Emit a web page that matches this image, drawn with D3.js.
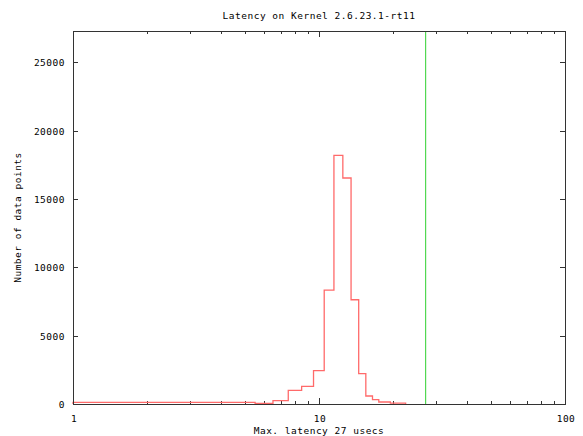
<!DOCTYPE html>
<html>
<head>
<meta charset="utf-8">
<script src="https://cdn.jsdelivr.net/npm/d3@7"></script>
<style>
  body { margin: 0; background: #fff; }
  text { font-family: "DejaVu Sans Mono", monospace; font-size: 9.5px; letter-spacing: 0.5px; fill: #000; }
</style>
</head>
<body>
<div id="chart"></div>
<script>
// histogram data: latency (usecs) -> number of samples
const latency = [1, 2, 3, 4, 5, 6, 7, 8, 9, 10, 11, 12, 13, 14, 15, 16, 17, 18, 19, 20, 21, 22];
const counts = [120, 120, 120, 120, 120, 44, 245, 995, 1290, 2440, 8340, 18190, 16540, 7630, 2220, 585, 315, 146, 146, 70, 70, 70];
const maxLatency = 27;
const yTicks = [0, 5000, 10000, 15000, 20000, 25000];
const xTicks = [1, 10, 100];
const yMax = 27300;

const width = 583, height = 436;
const margin = { top: 31, right: 18, bottom: 32, left: 73 };

const svg = d3.select("#chart")
  .append("svg")
  .attr("width", width)
  .attr("height", height);

const x = d3.scaleLog().domain([1, 100]).range([margin.left, width - margin.right]);
const y = d3.scaleLinear().domain([0, yMax]).range([height - margin.bottom, margin.top]);

// minor ticks 2..9, 20..90
const minor = [];
for (let d = 1; d < 100; d *= 10) for (let k = 2; k <= 9; k++) minor.push(d * k);

const x0 = margin.left, x1 = width - margin.right;
const y0 = height - margin.bottom, y1 = margin.top;

const ticks = svg.append("g").attr("stroke", "#333").attr("stroke-width", 1);

// x ticks, bottom and mirrored at top
minor.forEach(v => {
  const px = Math.round(x(v)) + 0.5;
  ticks.append("line").attr("x1", px).attr("x2", px).attr("y1", y0).attr("y2", y0 - 3);
  ticks.append("line").attr("x1", px).attr("x2", px).attr("y1", y1).attr("y2", y1 + 3);
});
xTicks.forEach(v => {
  const px = Math.round(x(v)) + 0.5;
  ticks.append("line").attr("x1", px).attr("x2", px).attr("y1", y0).attr("y2", y0 - 6);
  ticks.append("line").attr("x1", px).attr("x2", px).attr("y1", y1).attr("y2", y1 + 6);
});
// y ticks, left and right
yTicks.forEach(v => {
  const py = Math.round(y(v)) + 0.5;
  ticks.append("line").attr("x1", x0).attr("x2", x0 + 5).attr("y1", py).attr("y2", py);
  ticks.append("line").attr("x1", x1).attr("x2", x1 - 5).attr("y1", py).attr("y2", py);
});

// histogram drawn as steps centered on each latency value
const pts = [[latency[0], 0]];
latency.forEach((v, i) => {
  const lo = Math.max(1, v - 0.5), hi = v + 0.5;
  pts.push([lo, counts[i]], [hi, counts[i]]);
});
pts.push([latency[latency.length - 1] + 0.5, 0]);

const line = d3.line().x(d => x(d[0])).y(d => y(d[1]));

svg.append("path")
  .attr("d", line(pts))
  .attr("fill", "none")
  .attr("stroke", "#ff6a6a")
  .attr("stroke-width", 1.3);

// max latency marker
const gx = Math.round(x(maxLatency));
svg.append("rect")
  .attr("x", gx)
  .attr("y", y1 + 1)
  .attr("width", 1.2)
  .attr("height", y0 - y1 - 1)
  .attr("fill", "#52d852");

// frame
svg.append("rect")
  .attr("x", x0 + 0.5).attr("y", y1 + 0.5)
  .attr("width", x1 - x0).attr("height", y0 - y1)
  .attr("fill", "none")
  .attr("stroke", "#333")
  .attr("stroke-width", 1);

// tick labels
svg.selectAll(".ylab")
  .data(yTicks)
  .join("text")
  .attr("x", x0 - 8)
  .attr("y", d => y(d) + 4)
  .attr("text-anchor", "end")
  .text(d => d);

svg.selectAll(".xlab")
  .data(xTicks)
  .join("text")
  .attr("x", d => x(d) + 1)
  .attr("y", y0 + 18)
  .attr("text-anchor", "middle")
  .text(d => d);

// titles
svg.append("text")
  .attr("x", (x0 + x1) / 2)
  .attr("y", 19)
  .attr("text-anchor", "middle")
  .text("Latency on Kernel 2.6.23.1-rt11");

svg.append("text")
  .attr("x", (x0 + x1) / 2)
  .attr("y", 434)
  .attr("text-anchor", "middle")
  .text("Max. latency " + maxLatency + " usecs");

svg.append("text")
  .attr("transform", `translate(20.5, ${(y0 + y1) / 2}) rotate(-90)`)
  .attr("text-anchor", "middle")
  .text("Number of data points");
</script>
</body>
</html>
